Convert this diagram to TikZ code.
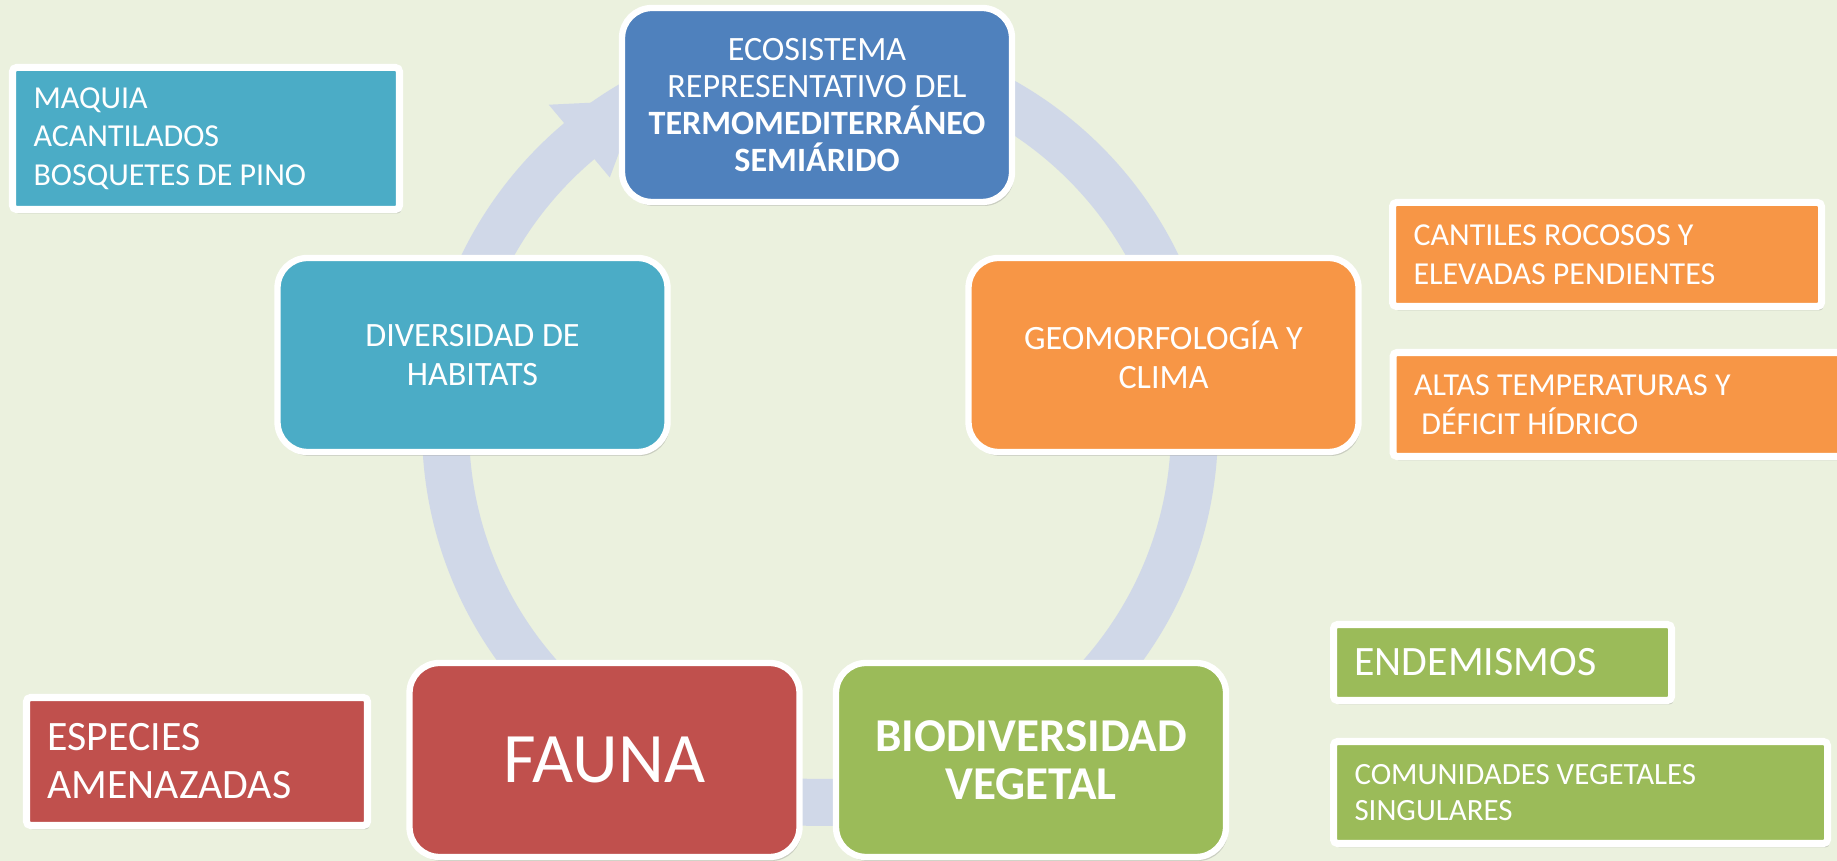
\documentclass[tikz,border=0pt]{standalone}
\usepackage{fontspec}
\setmainfont{Carlito}
\usepackage{tikz}
\usetikzlibrary{arrows,shapes,positioning,shadows}
\usepackage{xcolor}
\definecolor{paper}{RGB}{235,241,222}
\definecolor{ringgrey}{RGB}{208,216,232}
\definecolor{ecoblue}{RGB}{79,129,189}
\definecolor{habteal}{RGB}{75,172,198}
\definecolor{geoorange}{RGB}{247,150,70}
\definecolor{faured}{RGB}{192,80,77}
\definecolor{veggreen}{RGB}{155,187,89}
\tikzstyle{hubbox} = [draw=white, line width=1.8pt, rounded corners=0.3cm, text=white, align=center, minimum width=3.9cm, minimum height=1.94cm, drop shadow={shadow xshift=0.02cm, shadow yshift=-0.04cm, opacity=0.3}]
\tikzstyle{notebox} = [draw=white, line width=2pt, rounded corners=0.04cm, text=white, align=flush left, inner xsep=0.21cm, drop shadow={shadow xshift=0.02cm, shadow yshift=-0.04cm, opacity=0.3}]

\begin{document}
\begin{tikzpicture}
\useasboundingbox (0,0) rectangle (18.37,8.61);
\fill[paper] (0,0) rectangle (18.37,8.61);

% Cycle ring with its arrow head
\coordinate (hub) at (8.2,4.33);
\draw[ringgrey, line width=0.47cm] (hub) circle (3.745);
\fill[ringgrey] ([shift={(130:4.22)}]hub) -- ([shift={(119:3.745)}]hub) -- ([shift={(130:3.27)}]hub) -- cycle;

% Cycle steps
\node[hubbox, fill=ecoblue, font=\fontsize{9.7}{10.6}\selectfont] (eco) at (8.17,7.56)
  {ECOSISTEMA\\REPRESENTATIVO DEL\\\textbf{TERMOMEDITERRÁNEO}\\\textbf{SEMIÁRIDO}};
\node[hubbox, fill=geoorange, font=\fontsize{9.7}{11.3}\selectfont] (geo) at (11.635,5.06)
  {GEOMORFOLOGÍA Y\\CLIMA};
\node[hubbox, fill=veggreen, font=\fontsize{13.4}{13.6}\selectfont\bfseries] (bio) at (10.31,1.01)
  {BIODIVERSIDAD\\VEGETAL};
\node[hubbox, fill=faured, font=\fontsize{20.2}{24}\selectfont] (fau) at (6.045,1.01)
  {FAUNA};
\node[hubbox, fill=habteal, font=\fontsize{9.7}{11.3}\selectfont] (div) at (4.725,5.06)
  {DIVERSIDAD DE\\HABITATS};

% Notes
\node[notebox, fill=habteal, text width=3.45cm, minimum height=1.42cm, font=\fontsize{9.1}{11}\selectfont] (maq) at (2.06,7.225)
  {MAQUIA\\ACANTILADOS\\BOSQUETES DE PINO};
\node[notebox, fill=geoorange, text width=3.87cm, minimum height=1.04cm, font=\fontsize{9.1}{11}\selectfont] (can) at (16.07,6.065)
  {CANTILES ROCOSOS Y\\ELEVADAS PENDIENTES};
\node[notebox, fill=geoorange, text width=4.22cm, minimum height=1.04cm, font=\fontsize{9.1}{11}\selectfont] (alt) at (16.25,4.565)
  {ALTAS TEMPERATURAS Y\\\hspace*{0.23em}DÉFICIT HÍDRICO};
\node[notebox, fill=veggreen, text width=2.96cm, minimum height=0.76cm, font=\fontsize{11.9}{14}\selectfont] (end) at (15.025,1.985)
  {ENDEMISMOS};
\node[notebox, fill=veggreen, text width=4.52cm, minimum height=1.02cm, font=\fontsize{8.8}{10.2}\selectfont] (com) at (15.805,0.685)
  {COMUNIDADES VEGETALES\\SINGULARES};
\node[notebox, fill=faured, text width=2.99cm, minimum height=1.28cm, font=\fontsize{11.9}{13.7}\selectfont] (esp) at (1.97,0.995)
  {ESPECIES\\AMENAZADAS};
\end{tikzpicture}
\end{document}
